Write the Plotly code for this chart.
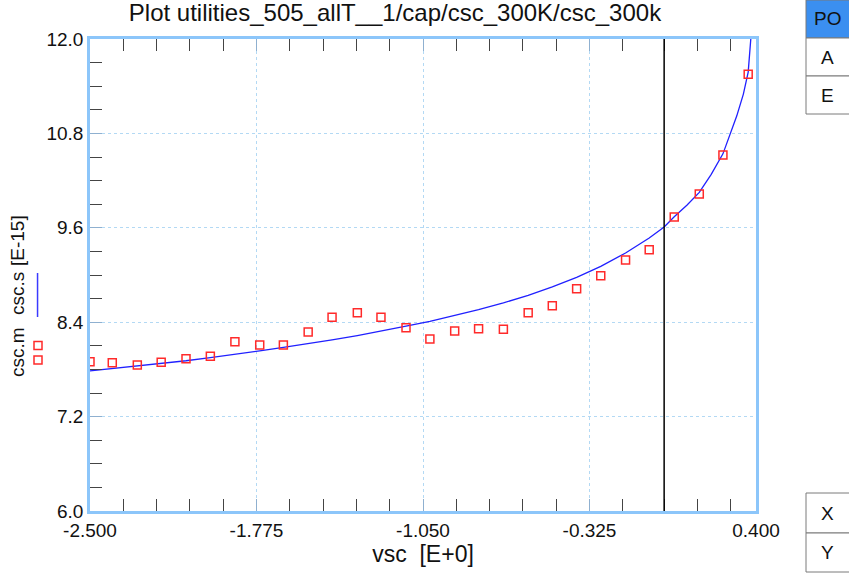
import plotly.graph_objects as go

# Measured capacitance (csc.m) vs. bias
vsc_meas = [-2.5, -2.403, -2.294, -2.19, -2.082, -1.976, -1.869, -1.761, -1.658, -1.55,
            -1.446, -1.336, -1.233, -1.124, -1.02, -0.912, -0.808, -0.7, -0.592, -0.487,
            -0.381, -0.276, -0.168, -0.065, 0.044, 0.153, 0.256, 0.366]
csc_meas = [7.898, 7.885, 7.856, 7.89, 7.936, 7.967, 8.152, 8.11, 8.11, 8.276,
            8.464, 8.521, 8.463, 8.33, 8.187, 8.288, 8.317, 8.31, 8.521, 8.61,
            8.826, 8.991, 9.191, 9.322, 9.737, 10.03, 10.525, 11.551]

# Simulated capacitance (csc.s)
vsc_sim = [-2.5, -2.403, -2.294, -2.19, -2.082, -1.976, -1.869, -1.761, -1.658, -1.55,
           -1.446, -1.336, -1.233, -1.124, -1.02, -0.912, -0.808, -0.7, -0.592, -0.487,
           -0.381, -0.276, -0.168, -0.065, 0.0, 0.044, 0.1, 0.153, 0.205, 0.256,
           0.316, 0.345, 0.366, 0.38]
csc_sim = [7.78, 7.81, 7.84, 7.875, 7.91, 7.95, 7.99, 8.035, 8.08, 8.125,
           8.175, 8.23, 8.285, 8.35, 8.41, 8.485, 8.56, 8.645, 8.74, 8.85,
           8.97, 9.11, 9.28, 9.47, 9.61, 9.74, 9.89, 10.05, 10.28, 10.54,
           11.02, 11.3, 11.58, 12.1]

x_ticks = [-2.5, -1.775, -1.05, -0.325, 0.4]
x_ticktext = ["-2.500", "-1.775", "-1.050", "-0.325", "0.400"]
x_minor = [-2.355, -2.21, -2.065, -1.92, -1.63, -1.485, -1.34, -1.195,
           -0.905, -0.76, -0.615, -0.47, -0.18, 0.0, 0.145, 0.29]
y_ticks = [6.0, 7.2, 8.4, 9.6, 10.8, 12.0]
cursor_x = 0.0

W, H = 849, 574
L, R, T, B = 90, 93, 39, 63
PW, PH = W - L - R, H - T - B


def px(x):
    return (x - L) / PW


def py(y):
    return (H - B - y) / PH


FONT = "Liberation Sans, Arial, sans-serif"
AXIS_BLUE = "#8cc6fa"
GRID_BLUE = "#b3d9f4"

fig = go.Figure()
fig.add_trace(go.Scatter(x=vsc_sim, y=csc_sim, mode="lines",
                         line=dict(color="#2020ff", width=1.3), name="csc.s"))
fig.add_trace(go.Scatter(x=vsc_meas, y=csc_meas, mode="markers",
                         marker=dict(symbol="square-open", size=8, color="#ff2a2a",
                                     line=dict(width=1.5)), name="csc.m"))

shapes = [dict(type="line", xref="x", yref="paper", x0=cursor_x, x1=cursor_x, y0=0, y1=1,
               line=dict(color="black", width=1.5))]
annos = []

# y-axis legend label
annos.append(dict(text="csc.m", x=px(17), y=py(352), textangle=-90))
annos.append(dict(text="csc.s", x=px(17), y=py(294), textangle=-90))
annos.append(dict(text="[E-15]", x=px(17), y=py(241), textangle=-90))
for a in annos:
    a.update(xref="paper", yref="paper", showarrow=False,
             xanchor="center", yanchor="middle",
             font=dict(family=FONT, size=19, color="#111"))
# legend swatch for the simulated line
shapes.append(dict(type="rect", xref="paper", yref="paper", x0=px(36.8), x1=px(38.3),
                   y0=py(317), y1=py(273), layer="above",
                   fillcolor="#3a3aff", line=dict(width=0)))
# legend swatch for the measured markers
for cy in (345.5, 360):
    shapes.append(dict(type="rect", xref="paper", yref="paper", x0=px(34), x1=px(42),
                       y0=py(cy + 4), y1=py(cy - 4), layer="above",
                       line=dict(color="#ff2a2a", width=1.5)))

# side buttons
buttons = [("PO", 0, 38, "#3b8ff0"), ("A", 38, 76, "white"), ("E", 76, 114, "white"),
           ("X", 493, 533, "white"), ("Y", 533, 572, "white")]
for label, y0, y1, fill in buttons:
    shapes.append(dict(type="rect", xref="paper", yref="paper", x0=px(806), x1=px(852),
                       y0=py(y1), y1=py(y0), fillcolor=fill,
                       line=dict(color="#7a7a7a", width=1), layer="above"))
    annos.append(dict(text=label, xref="paper", yref="paper", x=px(827), y=py((y0 + y1) / 2),
                      xanchor="center", yanchor="middle", showarrow=False,
                      font=dict(family=FONT, size=19, color="#111")))

fig.update_layout(
    width=W, height=H, autosize=False,
    margin=dict(l=L, r=R, t=T, b=B),
    paper_bgcolor="white", plot_bgcolor="white",
    showlegend=False,
    font=dict(family=FONT, size=19, color="#111"),
    title=dict(text="Plot utilities_505_allT__1/cap/csc_300K/csc_300k",
               x=395 / W, xanchor="center", y=1 - 13 / H, yanchor="middle",
               font=dict(family=FONT, size=24, color="#111")),
    xaxis=dict(range=[-2.5, 0.4], tickmode="array", tickvals=x_ticks, ticktext=x_ticktext,
               ticks="inside", ticklen=12, tickwidth=1, tickcolor="#8fb0d0",
               showline=True, linecolor=AXIS_BLUE, linewidth=2.5, mirror="allticks",
               showgrid=True, gridcolor=GRID_BLUE, griddash="dot", gridwidth=1,
               zeroline=False,
               minor=dict(tickmode="array", tickvals=x_minor, ticks="inside", ticklen=12,
                          tickwidth=1.3, tickcolor="#444", showgrid=False),
               title=dict(text="vsc  [E+0]", font=dict(family=FONT, size=23, color="#111"),
                          standoff=0),
               tickfont=dict(family=FONT, size=19, color="#111")),
    yaxis=dict(range=[6, 12], tickmode="array", tickvals=y_ticks, tickformat=".1f",
               ticks="inside", ticklen=12, tickwidth=1, tickcolor="#8fb0d0",
               showline=True, linecolor=AXIS_BLUE, linewidth=2.5, mirror=True,
               showgrid=True, gridcolor=GRID_BLUE, griddash="dot", gridwidth=1,
               zeroline=False,
               minor=dict(dtick=0.3, tick0=6, ticks="inside", ticklen=12,
                          tickwidth=1.3, tickcolor="#444", showgrid=False),
               tickfont=dict(family=FONT, size=19, color="#111")),
    shapes=shapes, annotations=annos,
)

fig.write_html("out.html")
